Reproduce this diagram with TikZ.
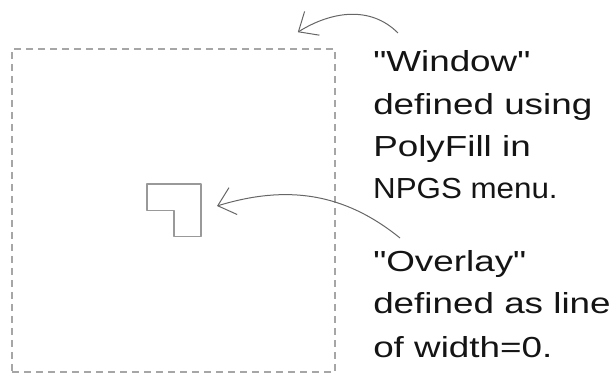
\documentclass[tikz,border=0pt]{standalone}
\usepackage{fontspec}
\setmainfont{Liberation Sans}[Ligatures=TeXOff]
\usetikzlibrary{arrows.meta}

\begin{document}
\begin{tikzpicture}[x=1pt, y=1pt,
    % --- styles ---
    window/.style={draw=gray!70, line width=1.6pt, dash pattern=on 7pt off 5pt,
        minimum width=323pt, minimum height=323pt, inner sep=0pt},
    overlay/.style={draw=gray!80, line width=1.6pt, line join=round},
    callout/.style={draw=black!60, line width=1pt,
        -{Straight Barb[length=16pt, width=28pt, line width=1pt]}},
    label/.style={anchor=base west, inner sep=0pt, text=black!92,
        font=\fontsize{29pt}{35pt}\selectfont, xscale=1.27}
]
    \useasboundingbox (0,0) rectangle (616,374);

    % dashed window
    \node[window] (win) at (173.5,163.5) {};

    % overlay shape (L)
    \draw[overlay] (146.7,190) -- (201,190) -- (201,137.3) -- (174,137.3)
        -- (174,163.3) -- (146.7,163.3) -- cycle;
    \coordinate (ovl) at (201,168);

    % text, upper block
    \node[label] (wtxt1) at (373,302) {"Window"};
    \node[label] (wtxt2) at (373,259) {defined using};
    \node[label] (wtxt3) at (373,217) {PolyFill in};
    \node[label, xscale=1.08/1.27] (wtxt4) at (373,175) {NPGS menu.};

    % text, lower block
    \node[label] (otxt1) at (373,102) {"Overlay"};
    \node[label] (otxt2) at (373,60.5) {defined as line};
    \node[label] (otxt3) at (373,16) {of width=0.};

    % arrows
    \draw[callout] ([xshift=25pt, yshift=39pt]wtxt1.base west)
        to[out=135, in=32] ([xshift=-38pt, yshift=16pt]win.north east);
    \draw[callout] ([xshift=27pt, yshift=34pt]otxt1.base west)
        to[out=141, in=17] ([xshift=16pt]ovl);
\end{tikzpicture}
\end{document}
